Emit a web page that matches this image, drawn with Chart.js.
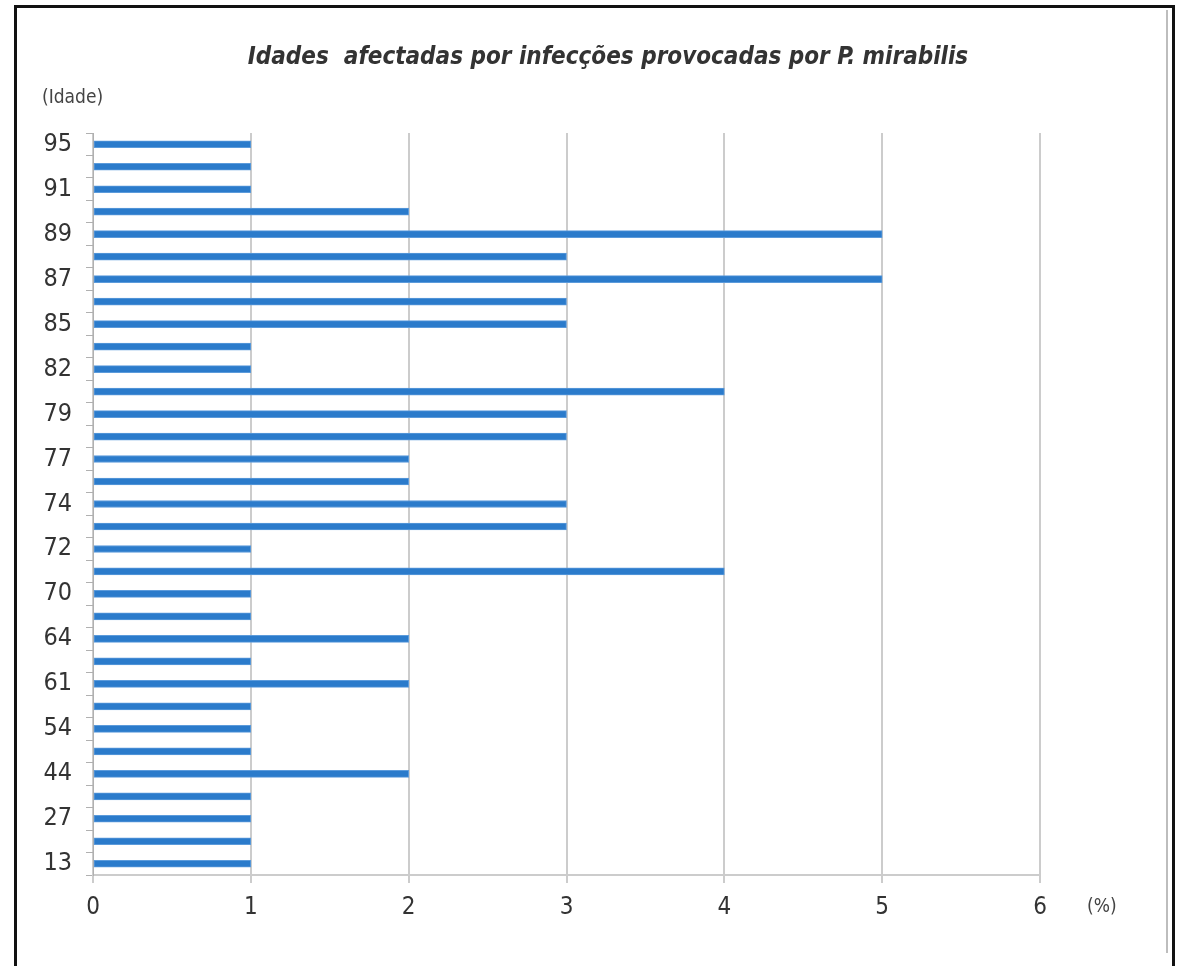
<!DOCTYPE html>
<html>
<head>
<meta charset="utf-8">
<script src="https://cdn.jsdelivr.net/npm/chart.js@4"></script>
<style>
  html, body { margin: 0; padding: 0; background: #fff; }
  #wrap { width: 1182px; height: 966px; }
</style>
</head>
<body>
<div id="wrap"><canvas id="ageChart"></canvas></div>
<script>
// ages, top to bottom as in the picture (only every other one is labelled)
const ages = ['95', '92', '91', '90', '89', '88', '87', '86', '85', '83', '82', '80', '79', '78', '77', '75',
  '74', '73', '72', '71', '70', '65', '64', '62', '61', '55', '54', '45', '44', '30', '27', '15', '13'];
// percentage of infections per age
const percent = [1, 1, 1, 2, 5, 3, 5, 3, 3, 1, 1, 4, 3, 3, 2, 2,
  3, 3, 1, 4, 1, 1, 2, 1, 2, 1, 1, 1, 2, 1, 1, 1, 1];
const xTicks = [0, 1, 2, 3, 4, 5, 6];
const chartTitle = 'Idades  afectadas por infecções provocadas por P. mirabilis';

const narrow = "'Liberation Sans Narrow', 'DejaVu Sans Condensed', sans-serif";

// frame, title and the two small unit labels
const extras = {
  id: 'extras',
  afterDraw(chart) {
    const ctx = chart.ctx;
    ctx.save();
    ctx.strokeStyle = '#bdbdbd';
    ctx.lineWidth = 2;
    ctx.beginPath();
    ctx.moveTo(1167, 10);
    ctx.lineTo(1167, 953);
    ctx.stroke();
    ctx.strokeStyle = '#111';
    ctx.lineWidth = 3;
    ctx.beginPath();
    ctx.moveTo(15.5, 966);
    ctx.lineTo(15.5, 6.5);
    ctx.lineTo(1173.5, 6.5);
    ctx.lineTo(1173.5, 966);
    ctx.stroke();

    ctx.fillStyle = '#333';
    ctx.font = 'italic bold 24px ' + narrow;
    ctx.textBaseline = 'middle';
    ctx.textAlign = 'center';
    ctx.fillText(chartTitle, 608, 58);

    ctx.fillStyle = '#444';
    ctx.font = '19px ' + narrow;
    ctx.textAlign = 'left';
    ctx.fillText('(Idade)', 42, 98);
    ctx.fillText('(%)', 1087, 907);
    ctx.restore();
  }
};

new Chart(document.getElementById('ageChart'), {
  type: 'bar',
  data: {
    labels: ages,
    datasets: [{
      data: percent,
      backgroundColor: '#2b7bcb',
      borderColor: '#5c9bdb',
      borderWidth: 1,
      borderSkipped: false,
      barThickness: 7
    }]
  },
  options: {
    indexAxis: 'y',
    responsive: true,
    maintainAspectRatio: false,
    animation: false,
    layout: { padding: { left: 0, right: 142, top: 133, bottom: 0 } },
    scales: {
      x: {
        min: 0,
        max: 6,
        afterBuildTicks(scale) { scale.ticks = xTicks.map(v => ({ value: v })); },
        afterFit(scale) { scale.height = 91; },
        grid: { color: '#cccccc', lineWidth: 2, tickLength: 8 },
        border: { color: '#cccccc', width: 2 },
        ticks: {
          padding: 10,
          color: '#333',
          font: { family: narrow, size: 24 }
        }
      },
      y: {
        afterFit(scale) { scale.width = 93; },
        grid: { drawOnChartArea: false, color: '#b0b0b0', tickLength: 7, offset: true },
        border: { color: '#b0b0b0', width: 1 },
        ticks: {
          autoSkip: false,
          padding: 14,
          color: '#333',
          font: { family: narrow, size: 25 },
          callback(value, index) { return index % 2 === 0 ? this.getLabelForValue(value) : ''; }
        }
      }
    },
    plugins: {
      legend: { display: false },
      tooltip: { enabled: false },
      title: { display: false }
    }
  },
  plugins: [extras]
});
</script>
</body>
</html>
